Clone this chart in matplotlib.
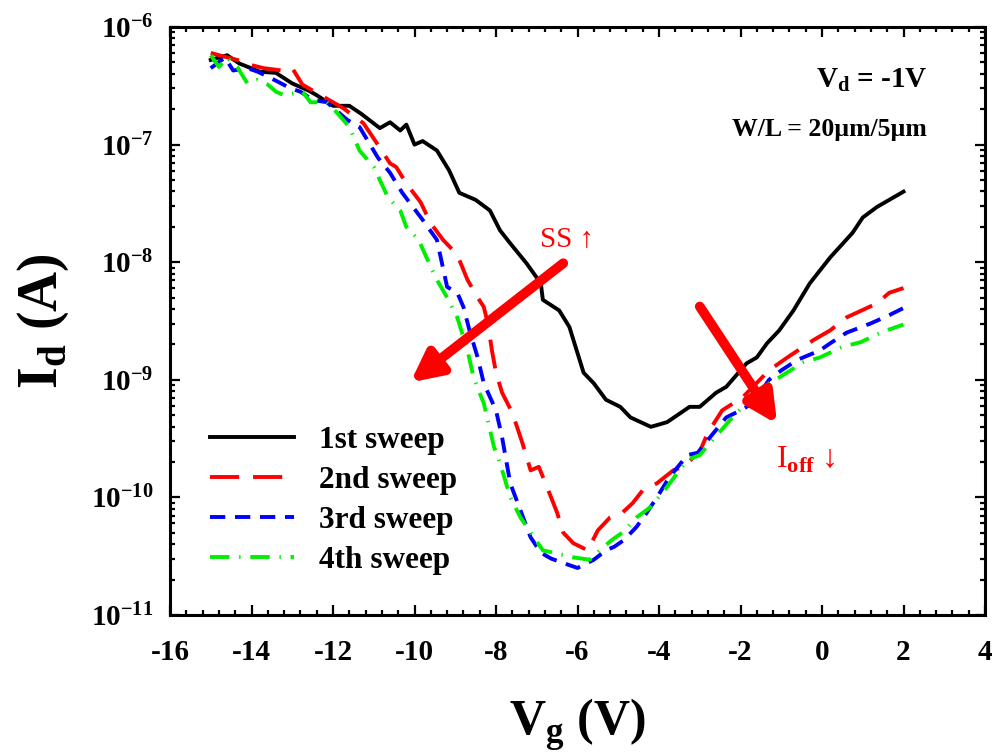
import numpy as np
import matplotlib
matplotlib.use("Agg")
import matplotlib.pyplot as plt
from matplotlib.ticker import MultipleLocator, LogLocator, FuncFormatter, NullFormatter

plt.rcParams["font.family"] = ["Liberation Serif", "DejaVu Serif"]
plt.rcParams["font.weight"] = "bold"
plt.rcParams["mathtext.fontset"] = "custom"
plt.rcParams["mathtext.rm"] = "Liberation Serif"
plt.rcParams["mathtext.bf"] = "Liberation Serif:bold"
plt.rcParams["lines.scale_dashes"] = False

# transfer curves, Vg in V, log10(Id / A)
vg_1 = [-15.0, -14.6, -14.3, -13.8, -13.4, -13.0, -12.6, -12.4, -12.0, -11.6, -11.3,
        -10.85, -10.6, -10.35, -10.2, -10.0, -9.8, -9.45, -9.15, -8.9, -8.5, -8.15,
        -7.9, -7.65, -7.25, -6.9, -6.85, -6.45, -6.2, -5.85, -5.6, -5.3, -4.95, -4.7,
        -4.2, -3.8, -3.25, -3.0, -2.6, -2.35, -1.85, -1.6, -1.35, -1.05, -0.7, -0.3,
        0.2, 0.75, 1.0, 1.35, 1.75, 2.0]
log_id_1 = [-6.28, -6.24, -6.31, -6.38, -6.39, -6.48, -6.54, -6.58, -6.67, -6.67, -6.74,
            -6.86, -6.81, -6.88, -6.83, -7.0, -6.97, -7.05, -7.22, -7.41, -7.47, -7.56,
            -7.73, -7.84, -8.01, -8.18, -8.32, -8.41, -8.55, -8.94, -9.03, -9.17, -9.23,
            -9.32, -9.40, -9.36, -9.23, -9.23, -9.11, -9.06, -8.86, -8.81, -8.69, -8.58,
            -8.41, -8.18, -7.96, -7.75, -7.62, -7.53, -7.45, -7.40]

vg_2 = [-15.0, -14.8, -14.35, -14.05, -13.7, -13.25, -13.0, -12.75, -12.3, -11.75, -11.25,
        -10.9, -10.6, -10.45, -10.2, -9.85, -9.6, -9.3, -9.05, -8.9, -8.7, -8.45, -8.3,
        -8.2, -8.1, -8.0, -7.85, -7.6, -7.35, -7.15, -6.95, -6.75, -6.5, -6.35, -6.1,
        -5.75, -5.5, -5.2, -4.9, -4.65, -4.4, -4.05, -3.65, -3.4, -3.0, -2.8, -2.45,
        -1.95, -1.3, -0.85, -0.2, 0.2, 0.6, 0.85, 1.35, 1.65, 2.0]
log_id_2 = [-6.22, -6.24, -6.28, -6.32, -6.35, -6.37, -6.35, -6.49, -6.58, -6.69, -6.82,
            -7.0, -7.16, -7.19, -7.33, -7.49, -7.67, -7.81, -7.90, -7.98, -8.15, -8.30,
            -8.38, -8.52, -8.75, -8.94, -9.11, -9.28, -9.54, -9.77, -9.74, -9.91, -10.13,
            -10.30, -10.39, -10.45, -10.28, -10.17, -10.13, -10.05, -9.94, -9.88, -9.77,
            -9.74, -9.61, -9.45, -9.26, -9.15, -8.92, -8.81, -8.66, -8.58, -8.47, -8.43,
            -8.35, -8.26, -8.22]

vg_3 = [-15.0, -14.65, -14.45, -14.1, -13.85, -13.55, -13.05, -12.8, -12.5, -12.15, -11.65,
        -11.35, -10.9, -10.6, -10.3, -9.8, -9.45, -9.2, -8.95, -8.8, -8.65, -8.45, -8.3,
        -8.0, -7.85, -7.65, -7.4, -7.15, -6.9, -6.65, -6.25, -6.0, -5.6, -5.3, -5.1,
        -4.85, -4.55, -4.3, -4.05, -3.75, -3.3, -3.05, -2.75, -2.35, -2.0, -1.7, -1.3,
        -1.0, -0.6, -0.05, 0.2, 0.6, 1.2, 1.65, 2.0]
log_id_3 = [-6.35, -6.26, -6.37, -6.35, -6.38, -6.43, -6.52, -6.55, -6.62, -6.64, -6.79,
            -6.85, -7.11, -7.24, -7.41, -7.64, -7.81, -8.21, -8.26, -8.38, -8.58, -8.81,
            -9.03, -9.26, -9.49, -9.88, -10.11, -10.34, -10.47, -10.52, -10.57, -10.60,
            -10.53, -10.45, -10.42, -10.36, -10.25, -10.13, -10.0, -9.83, -9.64, -9.62,
            -9.49, -9.32, -9.26, -9.20, -9.0, -8.92, -8.83, -8.75, -8.69, -8.60, -8.52,
            -8.45, -8.39]

vg_4 = [-15.0, -14.8, -14.6, -14.35, -14.1, -13.85, -13.6, -13.4, -13.2, -12.75, -12.55,
        -12.15, -11.9, -11.6, -11.35, -11.0, -10.65, -10.35, -10.2, -9.9, -9.6, -9.45,
        -9.2, -8.95, -8.7, -8.55, -8.3, -8.05, -7.9, -7.65, -7.4, -7.15, -6.85, -6.35,
        -6.1, -5.7, -5.45, -5.15, -4.9, -4.55, -4.2, -3.8, -3.5, -3.3, -3.0, -2.75,
        -2.25, -1.95, -1.45, -1.05, -0.45, -0.05, 0.5, 0.95, 1.5, 2.0]
log_id_4 = [-6.24, -6.34, -6.26, -6.34, -6.48, -6.45, -6.49, -6.55, -6.58, -6.55, -6.64,
            -6.64, -6.73, -6.85, -7.05, -7.19, -7.45, -7.56, -7.70, -7.81, -8.04, -8.15,
            -8.30, -8.47, -8.75, -8.98, -9.20, -9.57, -9.71, -10.0, -10.17, -10.30, -10.45,
            -10.49, -10.51, -10.53, -10.45, -10.36, -10.30, -10.17, -10.08, -9.91, -9.77,
            -9.68, -9.64, -9.54, -9.34, -9.23, -9.06, -8.98, -8.85, -8.81, -8.72, -8.68,
            -8.59, -8.53]

labels = ["1st sweep", "2nd sweep", "3rd sweep", "4th sweep"]
colors = ["black", "#ff0000", "#0000ff", "#00ee00"]
dashes = [None, (21, 10), (11, 7), (14, 7, 1, 7)]

fig = plt.figure(figsize=(9.95, 7.56), dpi=100)
ax = fig.add_axes([170/995, 1-615/756, 815/995, 588/756])

series = [(vg_1, log_id_1), (vg_2, log_id_2), (vg_3, log_id_3), (vg_4, log_id_4)]
for (vg, lid), lab, c, d in zip(series, labels, colors, dashes):
    ln, = ax.plot(vg, 10 ** np.array(lid), color=c, lw=2.8, label=lab)
    if d is not None:
        ln.set_dashes(d)

ax.set_yscale("log")
ax.set_xlim(-16, 4)
ax.set_ylim(1e-11, 1e-6)

ax.xaxis.set_major_locator(MultipleLocator(2))
ax.xaxis.set_minor_locator(MultipleLocator(0.4))
ax.yaxis.set_major_locator(LogLocator(base=10, numticks=10))
ax.yaxis.set_minor_locator(LogLocator(base=10, subs=np.arange(2, 10), numticks=20))
ax.yaxis.set_minor_formatter(NullFormatter())
ax.yaxis.set_major_formatter(FuncFormatter(lambda v, p: r"$\mathbf{10^{%d}}$" % round(np.log10(v))))
ax.xaxis.set_major_formatter(FuncFormatter(lambda v, p: "%d" % v))

ax.tick_params(which="both", direction="in", top=True, right=True, width=1.6)
ax.tick_params(which="major", length=7)
ax.tick_params(which="minor", length=3.5)
ax.tick_params(axis="x", labelsize=21, pad=17)
ax.tick_params(axis="y", labelsize=21, pad=12)
for s in ax.spines.values():
    s.set_linewidth(2.2)

ax.set_xlabel(r"V$_\mathbf{g}$ (V)", fontsize=36, fontweight="bold", labelpad=22)
ax.set_ylabel(r"I$_\mathbf{d}$ (A)", fontsize=40, fontweight="bold", labelpad=14)

ax.text(0.929, 0.91, r"V$_\mathbf{d}$ = -1V", transform=ax.transAxes, ha="right",
        va="center", fontsize=21, fontweight="bold")
ax.text(0.929, 0.825, "W/L = 20\u00b5m/5\u00b5m", transform=ax.transAxes, ha="right",
        va="center", fontsize=18.5, fontweight="bold")

ax.annotate("", xy=(-10.1, 9.5e-10), xytext=(-6.35, 9.8e-9),
            arrowprops=dict(arrowstyle="-|>", lw=7, color="red", mutation_scale=45,
                            shrinkA=0, shrinkB=0))
ax.annotate("", xy=(-1.1, 4.2e-10), xytext=(-3.0, 4.2e-9),
            arrowprops=dict(arrowstyle="-|>", lw=7, color="red", mutation_scale=45,
                            shrinkA=0, shrinkB=0))
ax.text(-6.26, 1.55e-8, "SS \u2191", color="red", fontsize=21, fontweight="normal",
        ha="center", va="center")
ax.text(-0.39, 2.1e-10, r"I$_\mathrm{off}$ " + "\u2193", color="red",
        fontsize=23, fontweight="normal", ha="center", va="center")

ax.legend(loc="upper left", bbox_to_anchor=(0.049, 0.322), frameon=False,
          prop={"size": 22.5, "weight": "bold"}, handlelength=2.7, handletextpad=0.78,
          labelspacing=0.36, borderpad=0, borderaxespad=0)

plt.savefig("out.png", dpi=100)
